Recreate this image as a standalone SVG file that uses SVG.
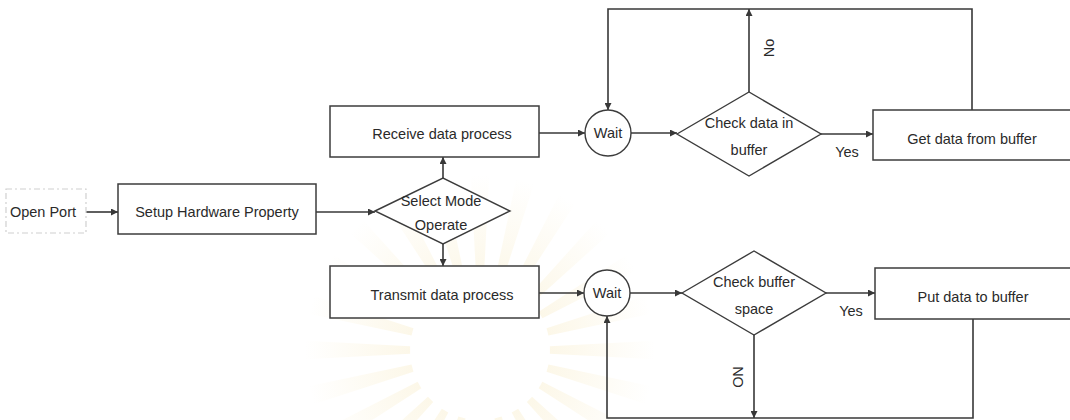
<svg xmlns="http://www.w3.org/2000/svg" xmlns:xlink="http://www.w3.org/1999/xlink" width="1070" height="420" viewBox="0 0 1070 420">
  <style>
    .box { fill: #ffffff; stroke: #3c3c3c; stroke-width: 1.5; }
    .faint { fill: #ffffff; stroke: #d0d0d0; stroke-width: 1.2; stroke-dasharray: 6 3 2 3; }
    .shape { fill: #ffffff; stroke: #3c3c3c; stroke-width: 1.4; }
    .arrow { fill: none; stroke: #383838; stroke-width: 1.6; marker-end: url(#head); }
    text { font-family: "Liberation Sans", Arial, sans-serif; font-size: 14.5px; fill: #2a2a2a; text-anchor: middle; }
  </style>
  <defs>
    <marker id="head" viewBox="0 0 10 10" refX="10" refY="5" markerWidth="9" markerHeight="7" markerUnits="userSpaceOnUse" orient="auto">
      <path d="M0,0 L10,5 L0,10 Z" fill="#383838"/>
    </marker>
    <radialGradient id="glow" gradientUnits="userSpaceOnUse" cx="0" cy="0" r="175">
      <stop offset="0.35" stop-color="#f1d98f" stop-opacity="0.22"/>
      <stop offset="1" stop-color="#f1d98f" stop-opacity="0"/>
    </radialGradient>
    <path id="ray" d="M69.9,-3.7 L174.8,-9.2 L174.8,9.2 L69.9,3.7 Z" fill="url(#glow)"/>
  </defs>

  <rect width="1070" height="420" fill="#ffffff"/>

  <!-- faint emblem in the background -->
  <g id="emblem" transform="translate(480,350)">
    <use xlink:href="#ray" transform="rotate(0)"/>
    <use xlink:href="#ray" transform="rotate(15)"/>
    <use xlink:href="#ray" transform="rotate(30)"/>
    <use xlink:href="#ray" transform="rotate(45)"/>
    <use xlink:href="#ray" transform="rotate(60)"/>
    <use xlink:href="#ray" transform="rotate(75)"/>
    <use xlink:href="#ray" transform="rotate(90)"/>
    <use xlink:href="#ray" transform="rotate(105)"/>
    <use xlink:href="#ray" transform="rotate(120)"/>
    <use xlink:href="#ray" transform="rotate(135)"/>
    <use xlink:href="#ray" transform="rotate(150)"/>
    <use xlink:href="#ray" transform="rotate(165)"/>
    <use xlink:href="#ray" transform="rotate(180)"/>
    <use xlink:href="#ray" transform="rotate(195)"/>
    <use xlink:href="#ray" transform="rotate(210)"/>
    <use xlink:href="#ray" transform="rotate(225)"/>
    <use xlink:href="#ray" transform="rotate(240)"/>
    <use xlink:href="#ray" transform="rotate(255)"/>
    <use xlink:href="#ray" transform="rotate(270)"/>
    <use xlink:href="#ray" transform="rotate(285)"/>
    <use xlink:href="#ray" transform="rotate(300)"/>
    <use xlink:href="#ray" transform="rotate(315)"/>
    <use xlink:href="#ray" transform="rotate(330)"/>
    <use xlink:href="#ray" transform="rotate(345)"/>
  </g>

  <!-- connectors -->
  <g id="connectors">
    <path class="arrow" d="M86,212 H118"/>
    <path class="arrow" d="M316,212 H375"/>
    <path class="arrow" d="M443,178 V157"/>
    <path class="arrow" d="M443,244 V266"/>
    <path class="arrow" d="M539,133 H585"/>
    <path class="arrow" d="M631,133 H677"/>
    <path class="arrow" d="M749,92 V9"/>
    <path class="arrow" d="M972,110 V9 H608 V110"/>
    <path class="arrow" d="M821,134 H873"/>
    <path class="arrow" d="M539,293 H584"/>
    <path class="arrow" d="M630,293 H682"/>
    <path class="arrow" d="M826,293 H875"/>
    <path class="arrow" d="M754,335 V418"/>
    <path class="arrow" d="M973,319 V418 H607 V316"/>
    <text x="847" y="157">Yes</text>
    <text x="851" y="316">Yes</text>
    <text transform="translate(774,48) rotate(-90)">No</text>
    <text transform="translate(733,377) rotate(90)">NO</text>
  </g>

  <g id="open-port">
    <rect class="faint" x="6" y="189" width="80" height="44"/>
    <text x="43" y="217">Open Port</text>
  </g>

  <g id="setup-hardware">
    <rect class="box" x="118" y="184" width="198" height="50" stroke="#6a6a6a"/>
    <text x="217" y="217">Setup Hardware Property</text>
  </g>

  <g id="select-mode">
    <polygon class="shape" points="375,211 443,178 510,211 443,244"/>
    <text x="441" y="206">Select Mode</text>
    <text x="441" y="230">Operate</text>
  </g>

  <g id="receive-process">
    <rect class="box" x="330" y="106" width="209" height="51"/>
    <text x="442" y="139">Receive data process</text>
  </g>

  <g id="transmit-process">
    <rect class="box" x="330" y="266" width="209" height="52"/>
    <text x="442" y="300">Transmit data process</text>
  </g>

  <g id="wait-receive">
    <circle class="shape" cx="608" cy="133" r="23"/>
    <text x="608" y="138">Wait</text>
  </g>

  <g id="wait-transmit">
    <circle class="shape" cx="607" cy="293" r="23"/>
    <text x="607" y="298">Wait</text>
  </g>

  <g id="check-data">
    <polygon class="shape" points="677,134 749,92 821,134 749,176"/>
    <text x="749" y="128">Check data in</text>
    <text x="749" y="155">buffer</text>
  </g>

  <g id="check-space">
    <polygon class="shape" points="682,293 754,251 826,293 754,335"/>
    <text x="754" y="287">Check buffer</text>
    <text x="754" y="314">space</text>
  </g>

  <g id="get-data">
    <rect class="box" x="873" y="110" width="205" height="50"/>
    <text x="972" y="144">Get data from buffer</text>
  </g>

  <g id="put-data">
    <rect class="box" x="875" y="268" width="205" height="51"/>
    <text x="973" y="302">Put data to buffer</text>
  </g>
</svg>
